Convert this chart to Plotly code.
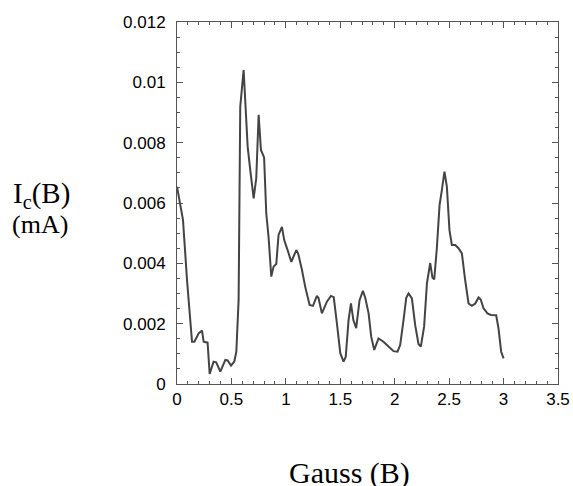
import plotly.graph_objects as go

gauss = [0.0, 0.055, 0.092, 0.116, 0.138, 0.16, 0.199, 0.23, 0.245, 0.281, 0.30,
         0.336, 0.36, 0.398, 0.444, 0.465, 0.496, 0.526, 0.545, 0.566, 0.581,
         0.612, 0.627, 0.649, 0.673, 0.704, 0.728, 0.75, 0.771, 0.80, 0.82,
         0.841, 0.866, 0.887, 0.912, 0.933, 0.964, 0.985, 1.016, 1.05, 1.096,
         1.115, 1.148, 1.178, 1.218, 1.249, 1.285, 1.30, 1.331, 1.377, 1.414,
         1.44, 1.469, 1.50, 1.53, 1.55, 1.576, 1.598, 1.62, 1.646, 1.677, 1.708,
         1.73, 1.76, 1.784, 1.812, 1.851, 1.897, 1.943, 1.989, 2.026, 2.05,
         2.081, 2.106, 2.127, 2.158, 2.188, 2.219, 2.24, 2.27, 2.296, 2.326,
         2.347, 2.363, 2.387, 2.412, 2.433, 2.457, 2.479, 2.503, 2.525, 2.556,
         2.586, 2.617, 2.647, 2.678, 2.709, 2.74, 2.77, 2.79, 2.816, 2.852,
         2.883, 2.932, 2.953, 2.978, 3.0]
ic = [6.54, 5.44, 3.45, 2.45, 1.40, 1.40, 1.68, 1.77, 1.40, 1.37, 0.33,
      0.74, 0.72, 0.41, 0.80, 0.78, 0.61, 0.74, 1.07, 2.78, 9.19,
      10.41, 9.41, 7.87, 7.09, 6.15, 6.82, 8.92, 7.76, 7.51, 5.66,
      4.88, 3.56, 3.89, 3.98, 4.94, 5.21, 4.77, 4.44, 4.05, 4.44,
      4.30, 3.78, 3.22, 2.62, 2.59, 2.92, 2.85, 2.34, 2.73, 2.92,
      2.88, 2.01, 1.02, 0.74, 0.90, 2.12, 2.67, 2.12, 1.85, 2.78, 3.09,
      2.85, 2.34, 1.57, 1.13, 1.51, 1.40, 1.24, 1.09, 1.07, 1.29,
      2.12, 2.86, 3.00, 2.84, 1.95, 1.32, 1.24, 1.90, 3.34, 4.01,
      3.52, 3.47, 4.50, 5.93, 6.43, 7.04, 6.54, 5.10, 4.61, 4.61,
      4.50, 4.33, 3.45, 2.67, 2.59, 2.67, 2.87, 2.80, 2.51, 2.34,
      2.29, 2.28, 1.85, 1.07, 0.85]
ic = [v / 1000 for v in ic]

x_ticks = [0, 0.5, 1, 1.5, 2, 2.5, 3, 3.5]
x_labels = ["0", "0.5", "1", "1.5", "2", "2.5", "3", "3.5"]
y_ticks = [0, 0.002, 0.004, 0.006, 0.008, 0.01, 0.012]
y_labels = ["0", "0.002", "0.004", "0.006", "0.008", "0.01", "0.012"]

fig = go.Figure(go.Scatter(x=gauss, y=ic, mode="lines",
                           line=dict(color="#444444", width=2)))

axis_style = dict(showline=True, linecolor="#555555", linewidth=1, mirror="ticks",
                  ticks="inside", ticklen=6, tickcolor="#555555", showgrid=False,
                  zeroline=False, automargin=False, tickangle=0,
                  tickfont=dict(family="Liberation Sans", size=17, color="black"))

fig.update_xaxes(range=[0, 3.5], tickvals=x_ticks, ticktext=x_labels,
                 minor=dict(dtick=0.1, ticks="inside", ticklen=3, tickcolor="#555555"),
                 **axis_style)
fig.update_yaxes(range=[0, 0.012], tickvals=y_ticks, ticktext=y_labels,
                 ticklabelstandoff=7,
                 minor=dict(dtick=0.0005, ticks="inside", ticklen=3, tickcolor="#555555"),
                 **axis_style)

serif = "Liberation Serif"
fig.add_annotation(text="I<sub>c</sub>(B)", xref="paper", yref="paper",
                   x=-0.355, y=0.522, showarrow=False, xanchor="center", yanchor="middle",
                   font=dict(family=serif, size=29, color="black"))
fig.add_annotation(text="(mA)", xref="paper", yref="paper",
                   x=-0.36, y=0.44, showarrow=False, xanchor="center", yanchor="middle",
                   font=dict(family=serif, size=26, color="black"))
fig.add_annotation(text="Gauss (B)", xref="paper", yref="paper", x=0.454, y=-0.246,
                   showarrow=False, xanchor="center", yanchor="middle",
                   font=dict(family=serif, size=30, color="black"))

fig.update_layout(width=573, height=486, margin=dict(l=177, r=15, t=22, b=102),
                  plot_bgcolor="white", paper_bgcolor="white", showlegend=False)

fig.write_html("out.html", config={"displayModeBar": False},
               post_script="document.body.style.margin='0';")
